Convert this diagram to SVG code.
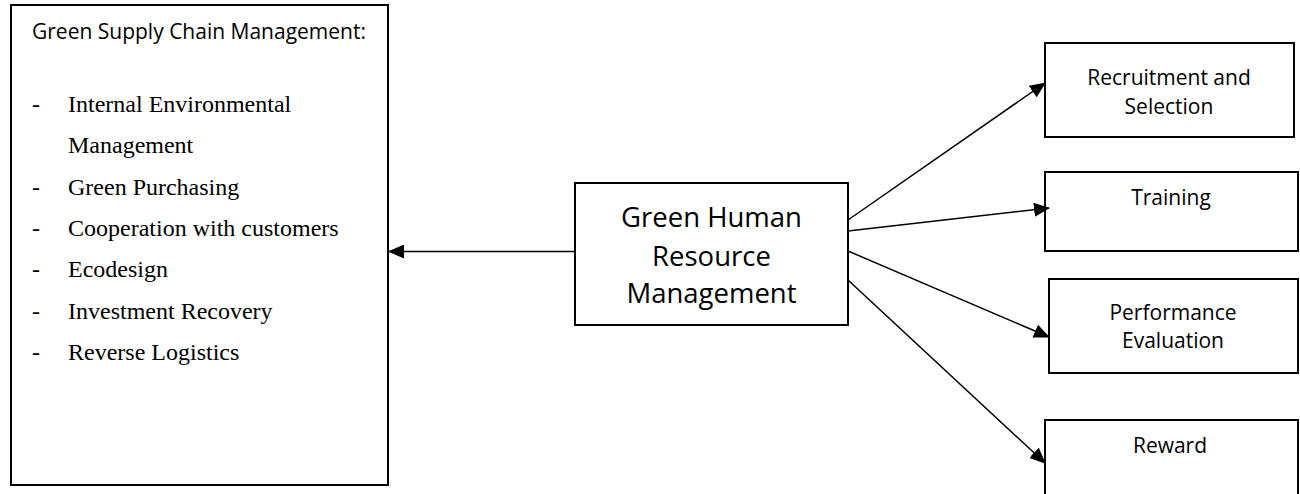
<svg xmlns="http://www.w3.org/2000/svg" width="1300" height="494" viewBox="0 0 1300 494">
<style>
.box{fill:#fff;stroke:#000;stroke-width:2}
.sans{font-family:"Open Sans","Liberation Sans",sans-serif;fill:#000}
.serif{font-family:"Liberation Serif","Times New Roman",serif;font-size:24px;fill:#000}
.conn{stroke:#000;stroke-width:1.5;fill:none;marker-end:url(#arr)}
.mid{text-anchor:middle}
.rt{font-size:21px}
</style>
<defs>
<marker id="arr" markerUnits="userSpaceOnUse" markerWidth="16" markerHeight="14" viewBox="0 0 16 14" refX="15" refY="7" orient="auto">
<path d="M0,0 L16,7 L0,14 Z" fill="#000"/>
</marker>
</defs>
<g id="gscm">
<rect class="box" x="11" y="5" width="377" height="480"/>
<text class="sans" x="32" y="39" font-size="21">Green Supply Chain Management:</text>
<text class="serif" x="32" y="112">-</text><text class="serif" x="68" y="112">Internal Environmental</text>
<text class="serif" x="68" y="153">Management</text>
<text class="serif" x="32" y="195">-</text><text class="serif" x="68" y="195">Green Purchasing</text>
<text class="serif" x="32" y="236">-</text><text class="serif" x="68" y="236">Cooperation with customers</text>
<text class="serif" x="32" y="277">-</text><text class="serif" x="68" y="277">Ecodesign</text>
<text class="serif" x="32" y="319">-</text><text class="serif" x="68" y="319">Investment Recovery</text>
<text class="serif" x="32" y="360">-</text><text class="serif" x="68" y="360">Reverse Logistics</text>
</g>
<g id="ghrm">
<rect class="box" x="575" y="183" width="273" height="142"/>
<text class="sans mid" x="711.5" y="227" font-size="27.5">Green Human</text>
<text class="sans mid" x="711.5" y="266" font-size="27.5">Resource</text>
<text class="sans mid" x="711.5" y="303" font-size="27.5">Management</text>
</g>
<g id="recruitment">
<rect class="box" x="1045" y="43" width="249" height="94"/>
<text class="sans mid rt" x="1169" y="85">Recruitment and</text>
<text class="sans mid rt" x="1169" y="114">Selection</text>
</g>
<g id="training">
<rect class="box" x="1045" y="172" width="253" height="79"/>
<text class="sans mid rt" x="1171" y="205">Training</text>
</g>
<g id="performance">
<rect class="box" x="1049" y="279" width="249" height="94"/>
<text class="sans mid rt" x="1173" y="320">Performance</text>
<text class="sans mid rt" x="1173" y="348">Evaluation</text>
</g>
<g id="reward">
<rect class="box" x="1045" y="420" width="253" height="90"/>
<text class="sans mid rt" x="1170" y="453">Reward</text>
</g>
<g id="connectors">
<line class="conn" x1="575" y1="251.5" x2="389" y2="251.5"/>
<line class="conn" x1="848" y1="220" x2="1045" y2="83"/>
<line class="conn" x1="848" y1="231" x2="1049" y2="208"/>
<line class="conn" x1="848" y1="251" x2="1049" y2="337"/>
<line class="conn" x1="848" y1="280" x2="1045" y2="463"/>
</g>
</svg>
